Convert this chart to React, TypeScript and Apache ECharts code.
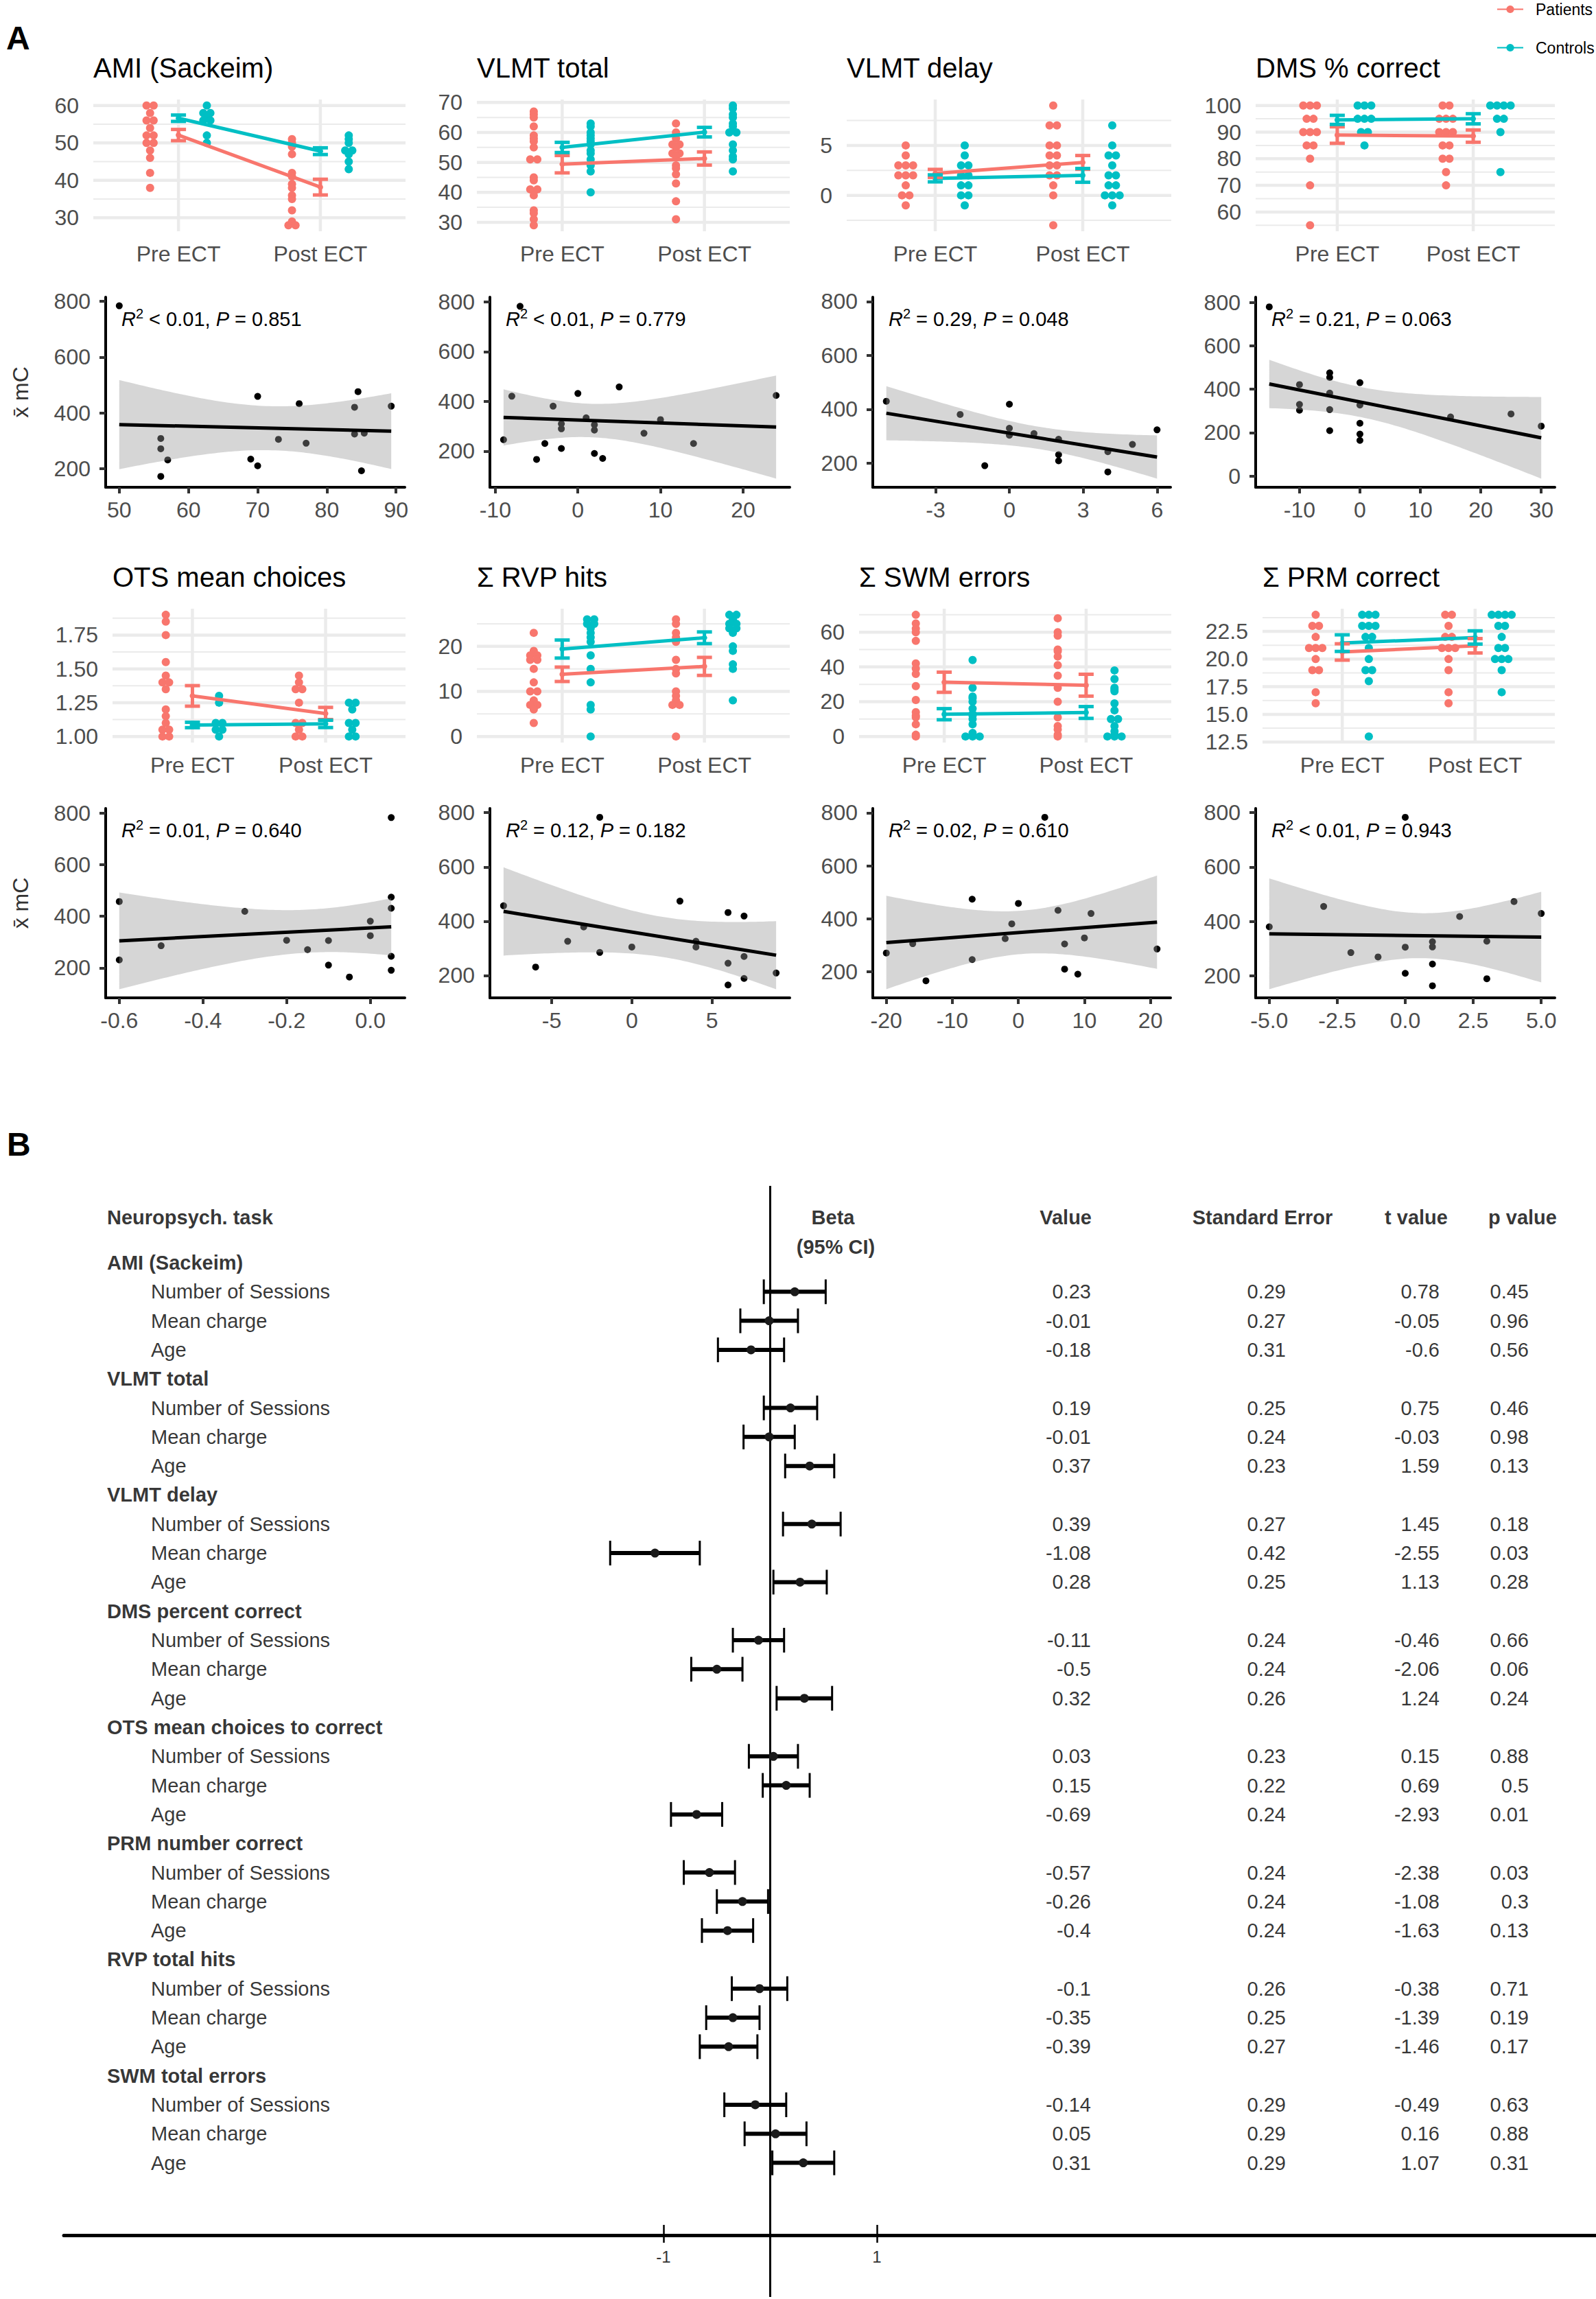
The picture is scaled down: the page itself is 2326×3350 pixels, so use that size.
import React, { useEffect, useRef } from "react";
import * as echarts from "echarts";

const FONT = "'Liberation Sans', Arial, Helvetica, sans-serif";
const RED = "#F8766D";
const CYAN = "#00BFC4";
const GRID_GREY = "#EBEBEB";
const LABEL_GREY = "#4D4D4D";

// ---------------- Panel A: pre / post group panels ----------------
const TIMEPOINTS = ["Pre ECT", "Post ECT"];
const GROUP_NAMES = ["Patients", "Controls"];

const AMI_PAT_PRE = [60, 60, 58, 56, 56, 54, 52, 52, 50, 50, 48, 46, 42, 38];
const AMI_PAT_POST = [51, 50, 49, 47, 42, 41, 39, 38, 36, 35, 32, 29, 28, 28];
const AMI_CTL_PRE = [60, 58, 58, 57, 56, 56, 52, 50];
const AMI_CTL_POST = [52, 51, 50, 48, 48, 47, 45, 43];
const AMI_MEAN = [52.1, 38.2, 56.6, 47.8]; // patients pre, patients post, controls pre, controls post
const AMI_SE = [1.5, 2.1, 0.85, 0.9];
const AMI_TICKS = [30, 40, 50, 60];
const AMI_LABELS = ["30", "40", "50", "60"];

const VLT_PAT_PRE = [67, 66, 65, 62, 59, 58, 57, 55, 51, 51, 45, 44, 41, 41, 39, 34, 33, 31, 29];
const VLT_PAT_POST = [63, 60, 58, 56, 56, 55, 53, 53, 52, 49, 48, 46, 43, 37, 31];
const VLT_CTL_PRE = [63, 62, 60, 59, 58, 57, 56, 54, 53, 51, 49, 47, 40];
const VLT_CTL_POST = [69, 68, 66, 65, 63, 62, 60, 60, 56, 54, 52, 51, 47];
const VLT_MEAN = [49.4, 51.3, 55.0, 60.1];
const VLT_SE = [2.9, 2.2, 1.7, 1.6];
const VLT_TICKS = [30, 40, 50, 60, 70];
const VLT_LABELS = ["30", "40", "50", "60", "70"];

const VLD_PAT_PRE = [5, 4, 3, 3, 3, 2, 2, 2, 1, 0, 0, -1];
const VLD_PAT_POST = [9, 7, 7, 5, 5, 4, 4, 3, 3, 2, 2, 1, 0, -3];
const VLD_CTL_PRE = [5, 4, 3, 3, 2, 2, 1, 1, 0, 0, -1];
const VLD_CTL_POST = [7, 5, 4, 4, 3, 2, 2, 1, 1, 0, 0, 0, -1];
const VLD_MEAN = [2.2, 3.3, 1.7, 2.0];
const VLD_SE = [0.4, 0.69, 0.35, 0.69];
const VLD_TICKS = [0, 5];
const VLD_LABELS = ["0", "5"];

const DMS_PAT_PRE = [100, 100, 100, 95, 95, 90, 90, 90, 85, 85, 80, 70, 55];
const DMS_PAT_POST = [100, 100, 95, 95, 95, 90, 90, 90, 85, 85, 80, 80, 75, 70];
const DMS_CTL_PRE = [100, 100, 100, 95, 95, 95, 90, 90, 85];
const DMS_CTL_POST = [100, 100, 100, 100, 95, 95, 90, 75];
const DMS_MEAN = [88.9, 88.5, 94.6, 95.0];
const DMS_SE = [3.1, 2.3, 1.7, 1.9];
const DMS_TICKS = [60, 70, 80, 90, 100];
const DMS_LABELS = ["60", "70", "80", "90", "100"];

const OTS_PAT_PRE = [1.9, 1.85, 1.75, 1.55, 1.45, 1.4, 1.4, 1.35, 1.2, 1.15, 1.1, 1.05, 1.05, 1.0, 1.0];
const OTS_PAT_POST = [1.45, 1.4, 1.35, 1.35, 1.25, 1.1, 1.1, 1.05, 1.0, 1.0];
const OTS_CTL_PRE = [1.3, 1.25, 1.1, 1.1, 1.05, 1.05, 1.0];
const OTS_CTL_POST = [1.25, 1.25, 1.2, 1.1, 1.1, 1.05, 1.0, 1.0];
const OTS_MEAN = [1.3, 1.17, 1.085, 1.093];
const OTS_SE = [0.076, 0.045, 0.02, 0.027];
const OTS_TICKS = [1.0, 1.25, 1.5, 1.75];
const OTS_LABELS = ["1.00", "1.25", "1.50", "1.75"];

const RVP_PAT_PRE = [23, 19, 18, 18, 17, 17, 15, 12, 10, 10, 8, 7, 7, 6, 3];
const RVP_PAT_POST = [26, 25, 23, 22, 21, 17, 15, 14, 10, 9, 8, 7, 7, 0];
const RVP_CTL_PRE = [26, 26, 25, 25, 24, 23, 22, 21, 18, 15, 12, 7, 6, 0];
const RVP_CTL_POST = [27, 27, 26, 25, 25, 24, 24, 23, 20, 19, 16, 15, 8];
const RVP_MEAN = [13.8, 15.55, 19.4, 21.9];
const RVP_SE = [1.6, 2.0, 2.0, 1.3];
const RVP_TICKS = [0, 10, 20];
const RVP_LABELS = ["0", "10", "20"];

const SWM_PAT_PRE = [70, 65, 62, 60, 55, 42, 39, 36, 29, 21, 14, 12, 11, 7, 1, 0];
const SWM_PAT_POST = [68, 60, 58, 50, 49, 46, 41, 35, 28, 20, 11, 6, 4, 1, 0];
const SWM_CTL_PRE = [44, 28, 23, 22, 20, 16, 13, 12, 10, 7, 2, 1, 0, 0, 0];
const SWM_CTL_POST = [38, 33, 28, 27, 26, 19, 15, 10, 10, 6, 3, 1, 0, 0, 0];
const SWM_MEAN = [31.2, 29.5, 12.8, 13.8];
const SWM_SE = [5.8, 6.3, 3.2, 3.4];
const SWM_TICKS = [0, 20, 40, 60];
const SWM_LABELS = ["0", "20", "40", "60"];

const PRM_PAT_PRE = [24, 23, 23, 22, 21, 21, 21, 20, 19, 19, 17, 16];
const PRM_PAT_POST = [24, 24, 23, 22, 22, 21, 21, 21, 20, 19, 17, 16];
const PRM_CTL_PRE = [24, 24, 24, 23, 23, 23, 22, 22, 21, 20, 19, 19, 18, 13];
const PRM_CTL_POST = [24, 24, 24, 24, 23, 23, 22, 21, 21, 20, 20, 20, 19, 17];
const PRM_MEAN = [20.64, 21.2, 21.44, 21.95];
const PRM_SE = [0.74, 0.65, 0.75, 0.6];
const PRM_TICKS = [12.5, 15, 17.5, 20, 22.5];
const PRM_LABELS = ["12.5", "15.0", "17.5", "20.0", "22.5"];

const GROUP_PANELS = [
  { title: "AMI (Sackeim)", pp: AMI_PAT_PRE, pq: AMI_PAT_POST, cp: AMI_CTL_PRE, cq: AMI_CTL_POST, mean: AMI_MEAN, se: AMI_SE, ticks: AMI_TICKS, labels: AMI_LABELS },
  { title: "VLMT total", pp: VLT_PAT_PRE, pq: VLT_PAT_POST, cp: VLT_CTL_PRE, cq: VLT_CTL_POST, mean: VLT_MEAN, se: VLT_SE, ticks: VLT_TICKS, labels: VLT_LABELS },
  { title: "VLMT delay", pp: VLD_PAT_PRE, pq: VLD_PAT_POST, cp: VLD_CTL_PRE, cq: VLD_CTL_POST, mean: VLD_MEAN, se: VLD_SE, ticks: VLD_TICKS, labels: VLD_LABELS },
  { title: "DMS % correct", pp: DMS_PAT_PRE, pq: DMS_PAT_POST, cp: DMS_CTL_PRE, cq: DMS_CTL_POST, mean: DMS_MEAN, se: DMS_SE, ticks: DMS_TICKS, labels: DMS_LABELS },
  { title: "OTS mean choices", pp: OTS_PAT_PRE, pq: OTS_PAT_POST, cp: OTS_CTL_PRE, cq: OTS_CTL_POST, mean: OTS_MEAN, se: OTS_SE, ticks: OTS_TICKS, labels: OTS_LABELS },
  { title: "\u03A3 RVP hits", pp: RVP_PAT_PRE, pq: RVP_PAT_POST, cp: RVP_CTL_PRE, cq: RVP_CTL_POST, mean: RVP_MEAN, se: RVP_SE, ticks: RVP_TICKS, labels: RVP_LABELS },
  { title: "\u03A3 SWM errors", pp: SWM_PAT_PRE, pq: SWM_PAT_POST, cp: SWM_CTL_PRE, cq: SWM_CTL_POST, mean: SWM_MEAN, se: SWM_SE, ticks: SWM_TICKS, labels: SWM_LABELS },
  { title: "\u03A3 PRM correct", pp: PRM_PAT_PRE, pq: PRM_PAT_POST, cp: PRM_CTL_PRE, cq: PRM_CTL_POST, mean: PRM_MEAN, se: PRM_SE, ticks: PRM_TICKS, labels: PRM_LABELS },
];

// ---------------- Panel A: correlation scatter panels ----------------
const SC_YTICKS = [0, 200, 400, 600, 800];
// mean charge of all patients (also those without a task score) – trains the y scale
const MC_RANGE = [164, 784];

const SC_AMI_X = [50, 70, 84.5, 76, 89.3, 84, 84, 85.4, 56, 73, 77, 56, 57, 69, 70, 85, 56];
const SC_AMI_Y = [784, 459, 476, 433, 424, 420, 324, 327, 308, 305, 291, 271, 231, 234, 210, 192, 172];
const SC_AMI_XTICKS = [50, 60, 70, 80, 90];

const SC_VLT_X = [-7, -8, 5, 0, 24, -3, 1, -2, -2, 2, 2, 10, 8, -9, -4, 14, -2, 2, 3, -5];
const SC_VLT_Y = [782, 421, 458, 432, 424, 381, 334, 310, 290, 306, 285, 327, 272, 246, 231, 231, 211, 191, 171, 167];
const SC_VLT_XTICKS = [-10, 0, 10, 20];

const SC_VLD_X = [-5, -2, 0, 0, 0, 1, 2, 2, 2, -1, 4, 4, 5, 6];
const SC_VLD_Y = [430, 381, 419, 330, 304, 310, 289, 232, 209, 191, 243, 168, 270, 324];
const SC_VLD_XTICKS = [-3, 0, 3, 6];

const SC_DMS_X = [-15, -10, -10, -10, -5, -5, -5, -5, -5, 0, 0, 0, 0, 0, 15, 25, 30];
const SC_DMS_Y = [779, 421, 330, 303, 475, 454, 382, 306, 209, 430, 327, 243, 193, 164, 272, 286, 230];
const SC_DMS_XTICKS = [-10, 0, 10, 20, 30];

const SC_OTS_X = [0.05, -0.6, -0.6, -0.5, -0.3, -0.2, -0.15, -0.1, -0.1, -0.05, 0, 0, 0.05, 0.05, 0.05, 0.05];
const SC_OTS_Y = [782, 457, 231, 286, 419, 307, 271, 306, 211, 165, 381, 325, 474, 431, 245, 191];
const SC_OTS_XTICKS = [-0.6, -0.4, -0.2, 0];
const SC_OTS_XLABELS = ["-0.6", "-0.4", "-0.2", "0.0"];

const SC_RVP_X = [-2, -8, 3, 6, 7, -3, -4, 4, 4, 0, -2, 7, 6, -6, 7, 9, 6];
const SC_RVP_Y = [783, 457, 474, 432, 419, 379, 326, 326, 305, 305, 285, 270, 245, 231, 189, 209, 165];
const SC_RVP_XTICKS = [-5, 0, 5];

const SC_SWM_X = [4, -7, 0, 6, 11, -1, 10, -2, 7, -16, -20, 21, -7, 7, 9, -14];
const SC_SWM_Y = [783, 474, 458, 432, 420, 381, 328, 325, 305, 306, 271, 286, 246, 210, 191, 166];
const SC_SWM_XTICKS = [-20, -10, 0, 10, 20];

const SC_PRM_X = [0, -5, -3, -2, -1, 0, 0, 1, 1, 1, 1, 2, 3, 3, 4, 5];
const SC_PRM_Y = [783, 380, 455, 285, 269, 305, 209, 325, 306, 243, 163, 418, 327, 189, 473, 429];
const SC_PRM_XTICKS = [-5, -2.5, 0, 2.5, 5];
const SC_PRM_XLABELS = ["-5.0", "-2.5", "0.0", "2.5", "5.0"];

const SC_R2_OP = ["<", "<", "=", "=", "=", "=", "=", "<"];
const SC_R2 = ["0.01", "0.01", "0.29", "0.21", "0.01", "0.12", "0.02", "0.01"];
const SC_P = ["0.851", "0.779", "0.048", "0.063", "0.640", "0.182", "0.610", "0.943"];
const SC_YNAME = "x\u0304 mC";

const SCATTER_PANELS = [
  { x: SC_AMI_X, y: SC_AMI_Y, xTicks: SC_AMI_XTICKS, xLabels: SC_AMI_XTICKS.map(String) },
  { x: SC_VLT_X, y: SC_VLT_Y, xTicks: SC_VLT_XTICKS, xLabels: SC_VLT_XTICKS.map(String) },
  { x: SC_VLD_X, y: SC_VLD_Y, xTicks: SC_VLD_XTICKS, xLabels: SC_VLD_XTICKS.map(String) },
  { x: SC_DMS_X, y: SC_DMS_Y, xTicks: SC_DMS_XTICKS, xLabels: SC_DMS_XTICKS.map(String) },
  { x: SC_OTS_X, y: SC_OTS_Y, xTicks: SC_OTS_XTICKS, xLabels: SC_OTS_XLABELS },
  { x: SC_RVP_X, y: SC_RVP_Y, xTicks: SC_RVP_XTICKS, xLabels: SC_RVP_XTICKS.map(String) },
  { x: SC_SWM_X, y: SC_SWM_Y, xTicks: SC_SWM_XTICKS, xLabels: SC_SWM_XTICKS.map(String) },
  { x: SC_PRM_X, y: SC_PRM_Y, xTicks: SC_PRM_XTICKS, xLabels: SC_PRM_XLABELS },
];

// ---------------- Panel B: forest plot ----------------
const FOREST_GROUPS = [
  "AMI (Sackeim)", "VLMT total", "VLMT delay", "DMS percent correct",
  "OTS mean choices to correct", "PRM number correct", "RVP total hits", "SWM total errors",
];
const FOREST_TERMS = ["Number of Sessions", "Mean charge", "Age"];
const FOREST_BETA = [0.23, -0.01, -0.18, 0.19, -0.01, 0.37, 0.39, -1.08, 0.28, -0.11, -0.5, 0.32, 0.03, 0.15, -0.69, -0.57, -0.26, -0.4, -0.1, -0.35, -0.39, -0.14, 0.05, 0.31];
const FOREST_SE = [0.29, 0.27, 0.31, 0.25, 0.24, 0.23, 0.27, 0.42, 0.25, 0.24, 0.24, 0.26, 0.23, 0.22, 0.24, 0.24, 0.24, 0.24, 0.26, 0.25, 0.27, 0.29, 0.29, 0.29];
const FOREST_T = [0.78, -0.05, -0.6, 0.75, -0.03, 1.59, 1.45, -2.55, 1.13, -0.46, -2.06, 1.24, 0.15, 0.69, -2.93, -2.38, -1.08, -1.63, -0.38, -1.39, -1.46, -0.49, 0.16, 1.07];
const FOREST_P = [0.45, 0.96, 0.56, 0.46, 0.98, 0.13, 0.18, 0.03, 0.28, 0.66, 0.06, 0.24, 0.88, 0.5, 0.01, 0.03, 0.3, 0.13, 0.71, 0.19, 0.17, 0.63, 0.88, 0.31];
const FOREST_TICKS = [-1, 1];

// ---------------- layout (pixels) ----------------
const GROUP_LAYOUT = [
  { l: 136, r: 591, t: 145, b: 337 },
  { l: 695, r: 1151, t: 145, b: 337 },
  { l: 1234, r: 1707, t: 145, b: 337 },
  { l: 1830, r: 2266, t: 145, b: 337 },
  { l: 164, r: 591, t: 887, b: 1082 },
  { l: 695, r: 1151, t: 887, b: 1082 },
  { l: 1252, r: 1707, t: 887, b: 1082 },
  { l: 1840, r: 2266, t: 887, b: 1082 },
];
const GROUP_TITLE_TOP = [75, 817];
const SCATTER_LAYOUT = [
  { l: 154, r: 590, t: 433, b: 710 },
  { l: 714, r: 1151, t: 433, b: 710 },
  { l: 1272, r: 1706, t: 433, b: 710 },
  { l: 1830, r: 2266, t: 433, b: 710 },
  { l: 154, r: 590, t: 1178, b: 1454 },
  { l: 714, r: 1151, t: 1178, b: 1454 },
  { l: 1272, r: 1706, t: 1178, b: 1454 },
  { l: 1830, r: 2266, t: 1178, b: 1454 },
];
const ANNOT_CENTER = [465, 1210];

const T975: Record<number, number> = { 10: 2.228, 11: 2.201, 12: 2.179, 13: 2.16, 14: 2.145, 15: 2.131, 16: 2.12, 17: 2.11, 18: 2.101, 19: 2.093, 20: 2.086, 21: 2.08, 22: 2.074 };

function avg(a: number[]) {
  return a.reduce((s, v) => s + v, 0) / a.length;
}

function linFit(xs: number[], ys: number[]) {
  const n = xs.length;
  const mx = avg(xs);
  const my = avg(ys);
  let sxx = 0;
  let sxy = 0;
  for (let i = 0; i < n; i++) {
    sxx += (xs[i] - mx) * (xs[i] - mx);
    sxy += (xs[i] - mx) * (ys[i] - my);
  }
  const b = sxy / sxx;
  const a = my - b * mx;
  let rss = 0;
  for (let i = 0; i < n; i++) rss += Math.pow(ys[i] - a - b * xs[i], 2);
  const s = Math.sqrt(rss / (n - 2));
  const t = T975[n - 2] ?? 2.1;
  const x0 = Math.min(...xs);
  const x1 = Math.max(...xs);
  const band: number[][] = [];
  const steps = 80;
  for (let k = 0; k <= steps; k++) {
    const x = x0 + ((x1 - x0) * k) / steps;
    const yh = a + b * x;
    const e = s * Math.sqrt(1 / n + ((x - mx) * (x - mx)) / sxx);
    band.push([x, yh - t * e, yh + t * e]);
  }
  return { a, b, x0, x1, band };
}

function dodge(values: number[], center: number, side: number) {
  const counts: Record<string, number> = {};
  values.forEach((v) => (counts[String(v)] = (counts[String(v)] || 0) + 1));
  const seen: Record<string, number> = {};
  return values.map((v) => {
    const key = String(v);
    const n = counts[key];
    const k = seen[key] || 0;
    seen[key] = k + 1;
    return [center + side * 0.2 + (k - (n - 1) / 2) * 0.05, v];
  });
}

function fmtTick(v: number, ticks: number[], labels: string[]) {
  const i = ticks.findIndex((t) => Math.abs(t - v) < 1e-9);
  return i >= 0 ? labels[i] : String(v);
}

function buildOption() {
  const grid: any[] = [];
  const xAxis: any[] = [];
  const yAxis: any[] = [];
  const series: any[] = [];
  const title: any[] = [];
  const addGrid = (l: number, t: number, r: number, b: number) => {
    grid.push({ left: l, top: t, width: r - l, height: b - t });
    return grid.length - 1;
  };

  title.push({ text: "A", left: 9, top: 27, padding: 0, textStyle: { fontSize: 48, fontWeight: "bold", color: "#000", fontFamily: FONT, lineHeight: 56 } });
  title.push({ text: "B", left: 10, top: 1639, padding: 0, textStyle: { fontSize: 48, fontWeight: "bold", color: "#000", fontFamily: FONT, lineHeight: 56 } });

  // ---- group panels ----
  GROUP_PANELS.forEach((p, i) => {
    const L = GROUP_LAYOUT[i];
    const gi = addGrid(L.l, L.t, L.r, L.b);
    const all = [
      ...p.pp, ...p.pq, ...p.cp, ...p.cq,
      ...p.mean.map((m, k) => m + p.se[k]),
      ...p.mean.map((m, k) => m - p.se[k]),
    ];
    const lo = Math.min(...all);
    const hi = Math.max(...all);
    const pad = (hi - lo) * 0.05;
    const ymin = lo - pad;
    const ymax = hi + pad;
    const xi = xAxis.length;
    const yi = yAxis.length;
    xAxis.push({
      gridIndex: gi, type: "value", min: 0.4, max: 2.6, position: "bottom",
      axisLine: { show: false, onZero: false }, axisTick: { show: false }, splitLine: { show: false },
      axisLabel: { customValues: [1, 2], formatter: (v: number) => TIMEPOINTS[Math.round(v) - 1], fontSize: 32, color: LABEL_GREY, fontFamily: FONT, margin: 17 },
    });
    yAxis.push({
      gridIndex: gi, type: "value", min: ymin, max: ymax, position: "left",
      axisLine: { show: false, onZero: false }, axisTick: { show: false }, splitLine: { show: false },
      axisLabel: { customValues: p.ticks, formatter: (v: number) => fmtTick(v, p.ticks, p.labels), fontSize: 32, color: LABEL_GREY, fontFamily: FONT, margin: 21 },
    });
    const step = p.ticks[1] - p.ticks[0];
    const minors: number[] = [];
    for (let v = p.ticks[0] - step / 2; v <= p.ticks[p.ticks.length - 1] + step / 2 + 1e-9; v += step) {
      if (v >= ymin && v <= ymax) minors.push(v);
    }
    const gridItems = [
      ...minors.map((v) => [0, v, 2]),
      ...p.ticks.map((v) => [0, v, 4.5]),
      [1, 1, 4.5],
      [1, 2, 4.5],
    ];
    series.push({
      type: "custom", xAxisIndex: xi, yAxisIndex: yi, silent: true, z: 1, data: gridItems,
      renderItem: (params: any, api: any) => {
        const o = api.value(0);
        const v = api.value(1);
        const w = api.value(2);
        const a = o === 0 ? api.coord([0.4, v]) : api.coord([v, ymin]);
        const b = o === 0 ? api.coord([2.6, v]) : api.coord([v, ymax]);
        return { type: "line", shape: { x1: a[0], y1: a[1], x2: b[0], y2: b[1] }, style: { stroke: GRID_GREY, lineWidth: w } };
      },
    });
    const dotSets: [number[], number, number, string][] = [
      [p.pp, 1, -1, RED],
      [p.pq, 2, -1, RED],
      [p.cp, 1, 1, CYAN],
      [p.cq, 2, 1, CYAN],
    ];
    dotSets.forEach(([vals, c, side, col]) => {
      series.push({
        type: "scatter", xAxisIndex: xi, yAxisIndex: yi, symbolSize: 12, silent: true, z: 2,
        itemStyle: { color: col, opacity: 1 }, data: dodge(vals, c, side),
      });
    });
    [0, 1].forEach((g) => {
      const col = g === 0 ? RED : CYAN;
      const m0 = p.mean[g * 2];
      const m1 = p.mean[g * 2 + 1];
      const s0 = p.se[g * 2];
      const s1 = p.se[g * 2 + 1];
      series.push({
        type: "line", name: GROUP_NAMES[g], xAxisIndex: xi, yAxisIndex: yi, silent: true, z: 3,
        data: [[1, m0], [2, m1]], symbol: "circle", symbolSize: 8,
        lineStyle: { color: col, width: 5 }, itemStyle: { color: col },
      });
      series.push({
        type: "custom", xAxisIndex: xi, yAxisIndex: yi, silent: true, z: 4,
        data: [[1, m0, s0], [2, m1, s1]],
        renderItem: (params: any, api: any) => {
          const x = api.value(0);
          const m = api.value(1);
          const s = api.value(2);
          const top = api.coord([x, m + s]);
          const bot = api.coord([x, m - s]);
          const hw = 11;
          const st = { stroke: col, lineWidth: 5 };
          return {
            type: "group",
            children: [
              { type: "line", shape: { x1: top[0], y1: top[1], x2: bot[0], y2: bot[1] }, style: st },
              { type: "line", shape: { x1: top[0] - hw, y1: top[1], x2: top[0] + hw, y2: top[1] }, style: st },
              { type: "line", shape: { x1: bot[0] - hw, y1: bot[1], x2: bot[0] + hw, y2: bot[1] }, style: st },
            ],
          };
        },
      });
    });
    title.push({
      text: p.title, left: L.l, top: GROUP_TITLE_TOP[i < 4 ? 0 : 1], padding: 0,
      textStyle: { fontSize: 40, fontWeight: "normal", color: "#000", fontFamily: FONT, lineHeight: 48 },
    });
  });

  // ---- scatter panels ----
  SCATTER_PANELS.forEach((p, i) => {
    const L = SCATTER_LAYOUT[i];
    const gi = addGrid(L.l, L.t, L.r, L.b);
    const f = linFit(p.x, p.y);
    const lo = Math.min(...p.y, MC_RANGE[0], ...f.band.map((b) => b[1]));
    const hi = Math.max(...p.y, MC_RANGE[1], ...f.band.map((b) => b[2]));
    const pad = (hi - lo) * 0.05;
    const xlo = Math.min(...p.x);
    const xhi = Math.max(...p.x);
    const xpad = (xhi - xlo) * 0.05;
    const ymin = lo - pad;
    const ymax = hi + pad;
    const yTicks = SC_YTICKS.filter((v) => v >= ymin && v <= ymax);
    const xi = xAxis.length;
    const yi = yAxis.length;
    const showName = i === 0 || i === 4;
    xAxis.push({
      gridIndex: gi, type: "value", min: xlo - xpad, max: xhi + xpad, position: "bottom",
      axisLine: { show: true, onZero: false, lineStyle: { color: "#000", width: 4 } },
      axisTick: { show: true, customValues: p.xTicks, length: 9, lineStyle: { color: "#333", width: 4 } },
      axisLabel: { customValues: p.xTicks, formatter: (v: number) => fmtTick(v, p.xTicks, p.xLabels), fontSize: 32, color: LABEL_GREY, fontFamily: FONT, margin: 17 },
      splitLine: { show: false },
    });
    yAxis.push({
      gridIndex: gi, type: "value", min: ymin, max: ymax, position: "left",
      name: showName ? SC_YNAME : "", nameLocation: "middle", nameGap: 108, nameRotate: 90,
      nameTextStyle: { fontSize: 32, color: "#333", fontFamily: FONT },
      axisLine: { show: true, onZero: false, lineStyle: { color: "#000", width: 4 } },
      axisTick: { show: true, customValues: yTicks, length: 9, lineStyle: { color: "#333", width: 4 } },
      axisLabel: { customValues: yTicks, formatter: (v: number) => String(v), fontSize: 32, color: LABEL_GREY, fontFamily: FONT, margin: 22 },
      splitLine: { show: false },
    });
    series.push({
      type: "scatter", xAxisIndex: xi, yAxisIndex: yi, symbolSize: 10, silent: true, z: 2,
      itemStyle: { color: "#000", opacity: 1 }, data: p.x.map((x, k) => [x, p.y[k]]),
    });
    const band = f.band;
    series.push({
      type: "custom", xAxisIndex: xi, yAxisIndex: yi, silent: true, z: 3,
      data: [[f.x0, f.a + f.b * f.x0]],
      renderItem: (params: any, api: any) => {
        const up = band.map((b) => api.coord([b[0], b[2]]));
        const dn = band.slice().reverse().map((b) => api.coord([b[0], b[1]]));
        return { type: "polygon", shape: { points: up.concat(dn) }, style: { fill: "rgba(153,153,153,0.4)" } };
      },
    });
    series.push({
      type: "line", xAxisIndex: xi, yAxisIndex: yi, silent: true, z: 4, symbol: "none",
      data: [[f.x0, f.a + f.b * f.x0], [f.x1, f.a + f.b * f.x1]],
      lineStyle: { color: "#000", width: 5 },
    });
    title.push({
      text: `{i|R}{s|2}{n| ${SC_R2_OP[i]} ${SC_R2[i]}, }{i|P}{n| = ${SC_P[i]}}`,
      left: L.l + 23, top: ANNOT_CENTER[i < 4 ? 0 : 1] - 18, padding: 0,
      textStyle: {
        fontWeight: "normal", fontSize: 29, fontFamily: FONT, color: "#000",
        rich: {
          i: { fontSize: 29, fontStyle: "italic", fontWeight: "normal", fontFamily: FONT, color: "#000", lineHeight: 36 },
          s: { fontSize: 20, fontWeight: "normal", fontFamily: FONT, color: "#000", lineHeight: 12, verticalAlign: "top" },
          n: { fontSize: 29, fontWeight: "normal", fontFamily: FONT, color: "#000", lineHeight: 36 },
        },
      },
    });
  });

  // ---- forest plot ----
  const FZ = 1122.5;
  const FU = 155.5;
  const FL = 93;
  const FR = 2326;
  const X_MIN = (FL - FZ) / FU;
  const X_MAX = (FR - FZ) / FU;
  const ROW0 = 1840;
  const ROWH = 42.31;
  const F_TOP = 1730;
  const F_AXIS = 3257;
  const gF = addGrid(FL, F_TOP, FR, F_AXIS);
  const xF = xAxis.length;
  xAxis.push({
    gridIndex: gF, type: "value", min: X_MIN, max: X_MAX, position: "bottom",
    axisLine: { show: true, onZero: false, lineStyle: { color: "#000", width: 5 } },
    axisTick: { show: true, customValues: FOREST_TICKS, length: 11, lineStyle: { color: "#000", width: 2.5 } },
    axisLabel: { customValues: FOREST_TICKS, formatter: (v: number) => String(v), fontSize: 24, color: "#333", fontFamily: FONT, margin: 19 },
    splitLine: { show: false },
  });
  xAxis.push({
    gridIndex: gF, type: "value", min: X_MIN, max: X_MAX, position: "bottom", offset: 0,
    axisLine: { show: false, onZero: false },
    axisTick: { show: true, inside: true, customValues: FOREST_TICKS, length: 15, lineStyle: { color: "#000", width: 2.5 } },
    axisLabel: { show: false }, splitLine: { show: false },
  });
  const xPx = xAxis.length;
  xAxis.push({ gridIndex: gF, type: "value", min: FL, max: FR, show: false, position: "bottom", axisLine: { onZero: false } });
  const yF = yAxis.length;
  yAxis.push({ gridIndex: gF, type: "value", inverse: true, min: (F_TOP - ROW0) / ROWH, max: (F_AXIS - ROW0) / ROWH, show: false, axisLine: { onZero: false } });

  const rowOf = (k: number) => Math.floor(k / 3) * 4 + (k % 3) + 1;

  series.push({
    type: "custom", xAxisIndex: xF, yAxisIndex: yF, silent: true, z: 6,
    data: FOREST_BETA.map((b, k) => [b, rowOf(k), FOREST_SE[k]]),
    renderItem: (params: any, api: any) => {
      const v = api.value(0);
      const r = api.value(1);
      const s = api.value(2);
      const c = api.coord([v, r]);
      const l = api.coord([v - s, r]);
      const h = api.coord([v + s, r]);
      return {
        type: "group",
        children: [
          { type: "line", shape: { x1: l[0], y1: c[1], x2: h[0], y2: c[1] }, style: { stroke: "#000", lineWidth: 6 } },
          { type: "line", shape: { x1: l[0], y1: c[1] - 18, x2: l[0], y2: c[1] + 18 }, style: { stroke: "#000", lineWidth: 3 } },
          { type: "line", shape: { x1: h[0], y1: c[1] - 18, x2: h[0], y2: c[1] + 18 }, style: { stroke: "#000", lineWidth: 3 } },
          { type: "circle", shape: { cx: c[0], cy: c[1], r: 6.5 }, style: { fill: "#1a1a1a" } },
        ],
      };
    },
  });

  const textSeries = (items: any[], align: string, bold: boolean) => ({
    type: "scatter", xAxisIndex: xPx, yAxisIndex: yF, symbolSize: 1, silent: true, z: 7,
    itemStyle: { color: "rgba(0,0,0,0)" },
    data: items,
    label: {
      show: true, position: "inside", align, verticalAlign: "middle",
      formatter: (pp: any) => pp.name, fontSize: 29, fontWeight: bold ? "bold" : "normal",
      color: "#000", fontFamily: FONT,
    },
  });
  const HEAD = -1.56;
  const boldLeft = [{ name: "Neuropsych. task", value: [156, HEAD] }, ...FOREST_GROUPS.map((g, gi) => ({ name: g, value: [156, gi * 4] }))];
  const boldCenter = [
    { name: "Beta", value: [1214, HEAD] },
    { name: "(95% CI)", value: [1218, -0.55] },
    { name: "Standard Error", value: [1840, HEAD] },
    { name: "t value", value: [2064, HEAD] },
    { name: "p value", value: [2219, HEAD] },
  ];
  const boldRight = [{ name: "Value", value: [1591, HEAD] }];
  const termLeft = FOREST_BETA.map((b, k) => ({ name: FOREST_TERMS[k % 3], value: [220, rowOf(k)] }));
  const numsRight: any[] = [];
  FOREST_BETA.forEach((b, k) => {
    const r = rowOf(k);
    numsRight.push({ name: String(b), value: [1590, r] });
    numsRight.push({ name: String(FOREST_SE[k]), value: [1874, r] });
    numsRight.push({ name: String(FOREST_T[k]), value: [2098, r] });
    numsRight.push({ name: String(FOREST_P[k]), value: [2228, r] });
  });
  series.push(textSeries(boldLeft, "left", true));
  series.push(textSeries(boldCenter, "center", true));
  series.push(textSeries(boldRight, "right", true));
  series.push(textSeries(termLeft, "left", false));
  series.push(textSeries(numsRight, "right", false));

  // zero reference line (extends beyond the axis)
  const gZ = addGrid(FL, 1728, FR, 3347);
  const xZ = xAxis.length;
  xAxis.push({ gridIndex: gZ, type: "value", min: X_MIN, max: X_MAX, show: false, axisLine: { onZero: false } });
  const yZ = yAxis.length;
  yAxis.push({ gridIndex: gZ, type: "value", min: 0, max: 1, show: false, axisLine: { onZero: false } });
  series.push({
    type: "line", xAxisIndex: xZ, yAxisIndex: yZ, silent: true, z: 5, symbol: "none",
    data: [[0, 0], [0, 1]], lineStyle: { color: "#000", width: 3 },
  });

  return {
    animation: false,
    backgroundColor: "#ffffff",
    textStyle: { fontFamily: FONT },
    title,
    legend: {
      data: GROUP_NAMES, orient: "vertical", left: 2181, top: 2, itemWidth: 38, itemHeight: 14, itemGap: 33,
      selectedMode: false, padding: 0,
      textStyle: { fontSize: 23, color: "#000", fontFamily: FONT, padding: [0, 0, 0, 13] },
    },
    grid,
    xAxis,
    yAxis,
    series,
  };
}

export default function App() {
  const ref = useRef<HTMLDivElement>(null);
  useEffect(() => {
    document.body.style.margin = "0";
    if (!ref.current) return;
    const chart = echarts.init(ref.current, null, { renderer: "svg" });
    chart.setOption(buildOption() as any);
    return () => chart.dispose();
  }, []);
  return (
    <div
      ref={ref}
      style={{ position: "absolute", left: 0, top: 0, width: 2326, height: 3350, background: "#fff" }}
    />
  );
}
